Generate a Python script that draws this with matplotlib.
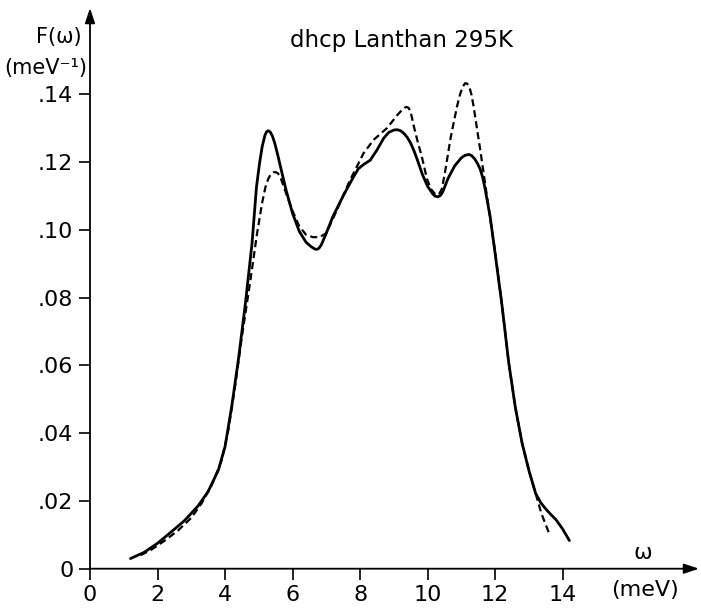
import matplotlib
matplotlib.use("Agg")
import matplotlib.pyplot as plt

# Phonon density of states of dhcp lanthanum at 295 K
omega_solid = [1.2, 1.6, 2.0, 2.4, 2.8, 3.2, 3.5, 3.8, 4.0, 4.2, 4.4, 4.6, 4.8,
               4.93, 5.02, 5.1, 5.18, 5.23, 5.28, 5.34, 5.4, 5.47, 5.55, 5.68,
               5.8, 6.0, 6.2, 6.4, 6.55, 6.66, 6.72, 6.78, 6.85, 7.0, 7.2, 7.5,
               7.8, 7.95, 8.1, 8.3, 8.5, 8.7, 8.85, 9.0, 9.1, 9.2, 9.3, 9.4,
               9.5, 9.6, 9.7, 9.85, 10.0, 10.15, 10.22, 10.3, 10.38, 10.45,
               10.6, 10.8, 11.0, 11.1, 11.22, 11.3, 11.4, 11.48, 11.56, 11.63,
               11.7, 11.85, 12.0, 12.2, 12.4, 12.6, 12.8, 13.0, 13.2, 13.35,
               13.5, 13.65, 13.8, 14.0, 14.2]
F_solid = [0.0030, 0.0048, 0.0075, 0.0108, 0.0142, 0.0185, 0.0228, 0.0290,
           0.0360, 0.0480, 0.0620, 0.0780, 0.0960, 0.1125, 0.1195, 0.1245,
           0.1278, 0.1289, 0.1292, 0.1288, 0.1277, 0.1256, 0.1225, 0.1170,
           0.1120, 0.1048, 0.0995, 0.0963, 0.0950, 0.0943, 0.0942, 0.0945,
           0.0955, 0.0990, 0.1040, 0.1100, 0.1155, 0.1180, 0.1192, 0.1205,
           0.1235, 0.1270, 0.1287, 0.1294, 0.1295, 0.1292, 0.1284, 0.1272,
           0.1255, 0.1232, 0.1205, 0.1162, 0.1128, 0.1106, 0.1099, 0.1097,
           0.1101, 0.1112, 0.1150, 0.1188, 0.1212, 0.1219, 0.1222, 0.1219,
           0.1208, 0.1195, 0.1178, 0.1155, 0.1122, 0.1040, 0.0930, 0.0780,
           0.0610, 0.0475, 0.0370, 0.0290, 0.0222, 0.0195, 0.0176, 0.0160,
           0.0145, 0.0117, 0.0083]

omega_dashed = [1.5, 1.8, 2.2, 2.6, 3.0, 3.3, 3.6, 3.9, 4.1, 4.3, 4.5, 4.75,
                4.95, 5.1, 5.2, 5.28, 5.35, 5.43, 5.5, 5.57, 5.65, 5.8, 6.0,
                6.2, 6.4, 6.6, 6.8, 7.0, 7.3, 7.5, 7.7, 7.9, 8.1, 8.4, 8.8,
                9.1, 9.25, 9.32, 9.38, 9.44, 9.5, 9.58, 9.7, 9.83, 9.98, 10.1,
                10.22, 10.33, 10.42, 10.5, 10.68, 10.87, 10.95, 11.03, 11.11,
                11.17, 11.24, 11.3, 11.36, 11.46, 11.56, 11.66, 11.8, 12.0,
                12.2, 12.4, 12.6, 12.8, 13.0, 13.2, 13.37, 13.6]
F_dashed = [0.0040, 0.0055, 0.0082, 0.0112, 0.0150, 0.0192, 0.0245, 0.0320,
            0.0410, 0.0540, 0.0685, 0.0850, 0.0990, 0.1080, 0.1127, 0.1150,
            0.1163, 0.1169, 0.1170, 0.1166, 0.1152, 0.1110, 0.1055, 0.1010,
            0.0985, 0.0978, 0.0978, 0.0990, 0.1055, 0.1100, 0.1146, 0.1185,
            0.1225, 0.1265, 0.1300, 0.1338, 0.1354, 0.1360, 0.1362, 0.1359,
            0.1347, 0.1310, 0.1262, 0.1215, 0.1150, 0.1120, 0.1105, 0.1103,
            0.1120, 0.1160, 0.1270, 0.1363, 0.1395, 0.1420, 0.1432, 0.1431,
            0.1420, 0.1398, 0.1365, 0.1300, 0.1235, 0.1166, 0.1070, 0.0935,
            0.0780, 0.0610, 0.0475, 0.0370, 0.0290, 0.0222, 0.0163, 0.0104]

x_ticks = [0, 2, 4, 6, 8, 10, 12, 14]
y_ticks = [0, 0.02, 0.04, 0.06, 0.08, 0.10, 0.12, 0.14]
y_tick_labels = ["0", ".02", ".04", ".06", ".08", ".10", ".12", ".14"]

plt.rcParams["font.family"] = ["DejaVu Sans"]

fig = plt.figure(figsize=(7.01, 6.12), dpi=100)
W, H = 701, 612
x0_px, x1_px = 90, 699
y0_px, y1_px = 568.7, 8
ax = fig.add_axes([x0_px / W, (H - y0_px) / H,
                   (x1_px - x0_px) / W, (y0_px - y1_px) / H])

px_per_x = 33.76
px_per_y = 3390.0
ax.set_xlim(0, (x1_px - x0_px) / px_per_x)
ax.set_ylim(0, (y0_px - y1_px) / px_per_y)

ax.plot(omega_solid, F_solid, color="black", lw=2.0,
        solid_capstyle="round", solid_joinstyle="round")
ax.plot(omega_dashed, F_dashed, color="black", lw=1.6, ls=(0, (3.2, 1.8)),
        dash_joinstyle="round")

# axes with arrowheads
for s in ("top", "right", "left", "bottom"):
    ax.spines[s].set_visible(False)
ax.annotate("", xy=(1, 0), xytext=(0, 0), xycoords="axes fraction",
            arrowprops=dict(arrowstyle="-|>,head_length=0.9,head_width=0.3",
                            color="black", lw=1.3, shrinkA=0, shrinkB=0))
ax.annotate("", xy=(0, 1), xytext=(0, 0), xycoords="axes fraction",
            arrowprops=dict(arrowstyle="-|>,head_length=0.9,head_width=0.3",
                            color="black", lw=1.3, shrinkA=0, shrinkB=0))

ax.set_xticks(x_ticks)
ax.set_xticklabels([str(t) for t in x_ticks])
ax.set_yticks(y_ticks)
ax.set_yticklabels(y_tick_labels)
ax.tick_params(axis="x", direction="out", length=8, width=1.2, pad=4,
               labelsize=16)
ax.tick_params(axis="y", direction="out", length=8, width=1.2, pad=4,
               labelsize=16)

fig.text(82 / W, 1 - 37 / H, "F(\u03c9)", ha="right", va="center", fontsize=15)
fig.text(87 / W, 1 - 68 / H, "(meV\u207b\u00b9)", ha="right", va="center",
         fontsize=15)
fig.text(402 / W, 1 - 40 / H, "dhcp Lanthan 295K", ha="center", va="center",
         fontsize=16.5)
fig.text(643 / W, 1 - 553 / H, "\u03c9", ha="center", va="center", fontsize=16)
fig.text(645 / W, 1 - 590 / H, "(meV)", ha="center", va="center", fontsize=16)

fig.savefig("out.png", dpi=100, facecolor="white")
